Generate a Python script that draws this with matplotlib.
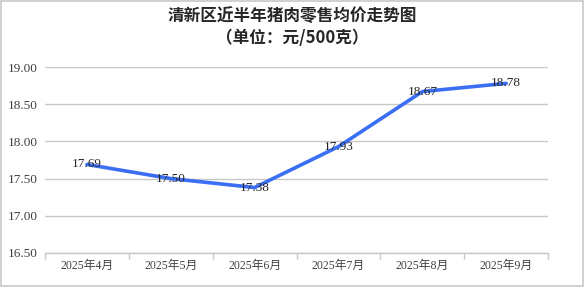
import matplotlib
matplotlib.use("Agg")
import matplotlib.pyplot as plt
from matplotlib.patches import Rectangle

plt.rcParams['font.family'] = ['Liberation Serif', 'Noto Sans CJK SC', 'DejaVu Sans']

months = ["2025年4月", "2025年5月", "2025年6月", "2025年7月", "2025年8月", "2025年9月"]
prices = [17.69, 17.50, 17.38, 17.93, 18.67, 18.78]
yticks = [16.50, 17.00, 17.50, 18.00, 18.50, 19.00]
title = "清新区近半年猪肉零售均价走势图"
subtitle = "（单位：元/500克）"

fig = plt.figure(figsize=(5.85, 2.87), dpi=100)
fig.patches.append(Rectangle((0.002, 0.004), 0.995, 0.992, transform=fig.transFigure,
                             fill=False, edgecolor='#c8c8c8', linewidth=1.2))
ax = fig.add_axes([0.077, 0.1185, 0.86, 0.648])

x = list(range(len(months)))
ax.plot(x, prices, color='#3a6ef5', linewidth=2.6, solid_capstyle='round', zorder=3)
for xi, v in zip(x, prices):
    ax.text(xi, v, f"{v:.2f}", ha='center', va='center', fontsize=9.5,
            color='#262626', zorder=4)

ax.set_xlim(-0.5, len(months) - 0.5)
ax.set_ylim(yticks[0], yticks[-1])
ax.set_yticks(yticks)
ax.set_yticklabels([f"{t:.2f}" for t in yticks], fontsize=9.5, color='#404040')
ax.yaxis.grid(True, color='#c8c8c8', linewidth=1)
ax.tick_params(axis='y', length=0, pad=5)

ax.set_xticks([i - 0.5 for i in range(len(months) + 1)], minor=False)
ax.set_xticklabels([])
ax.set_xticks(x, minor=True)
ax.set_xticklabels(months, minor=True, fontsize=8.5, color='#404040',
                   family=['Liberation Serif', 'Noto Sans CJK SC'])
ax.tick_params(axis='x', which='major', length=4, color='#c8c8c8', width=1)
ax.tick_params(axis='x', which='minor', length=0, pad=5)

for s in ['top', 'right', 'left']:
    ax.spines[s].set_visible(False)
ax.spines['bottom'].set_color('#c8c8c8')
ax.spines['bottom'].set_linewidth(1)
ax.set_axisbelow(True)

fig.text(0.5, 0.944, title, ha='center', va='center',
         fontsize=12, fontweight='bold', color='#262626', family=['Noto Sans CJK SC'])
fig.text(0.5, 0.866, subtitle, ha='center', va='center',
         fontsize=12, fontweight='bold', color='#262626',
         family=['Noto Sans CJK SC'])

fig.savefig("out.png", dpi=100, facecolor='white')
